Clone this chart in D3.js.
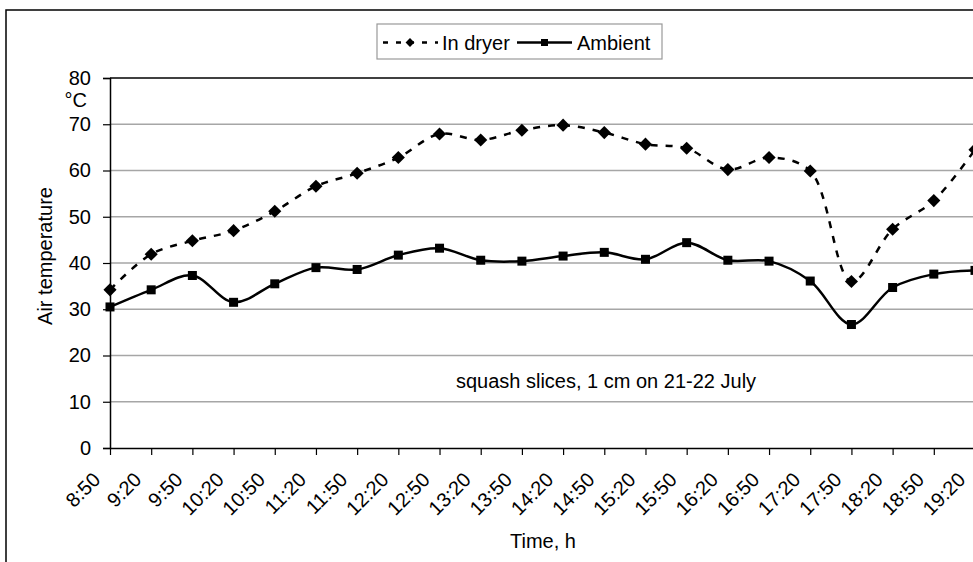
<!DOCTYPE html>
<html>
<head>
<meta charset="utf-8">
<script src="https://cdn.jsdelivr.net/npm/d3@7"></script>
<style>
  body { margin: 0; background: #fff; }
  svg { font-family: "Liberation Sans", Arial, sans-serif; }
</style>
</head>
<body>
<svg id="chart" width="973" height="562"></svg>
<script>
var times = ["8:50","9:20","9:50","10:20","10:50","11:20","11:50","12:20","12:50","13:20","13:50",
             "14:20","14:50","15:20","15:50","16:20","16:50","17:20","17:50","18:20","18:50","19:20"]

var inDryer = [34.2, 41.9, 44.8, 47.0, 51.2, 56.6, 59.4, 62.8, 67.9, 66.6, 68.7,
               69.8, 68.2, 65.7, 64.8, 60.2, 62.8, 59.9, 36.0, 47.3, 53.5, 64.5]

var ambient = [30.5, 34.2, 37.3, 31.5, 35.5, 39.0, 38.6, 41.7, 43.2, 40.6, 40.4,
               41.5, 42.3, 40.8, 44.4, 40.6, 40.4, 36.1, 26.7, 34.7, 37.6, 38.4]

var yTicks = [0, 10, 20, 30, 40, 50, 60, 70, 80]

var svg = d3.select("#chart")

var plotLeft = 110, plotRight = 975, plotTop = 78, plotBottom = 448

var x = d3.scalePoint().domain(times).range([plotLeft, plotRight])
var y = d3.scaleLinear().domain([0, 80]).range([plotBottom, plotTop])

// outer frame (runs off the page on the right and bottom)
svg.append("rect")
    .attr("x", 6).attr("y", 10)
    .attr("width", 1000).attr("height", 600)
    .attr("fill", "none").attr("stroke", "#000").attr("stroke-width", 1.5)

// gridlines
svg.append("g").selectAll("line")
    .data(yTicks.filter(function(d) { return d > 0 && d < 80 }))
    .enter().append("line")
    .attr("x1", plotLeft).attr("x2", 973)
    .attr("y1", function(d) { return y(d) }).attr("y2", function(d) { return y(d) })
    .attr("stroke", "#a6a6a6").attr("stroke-width", 1.5)

// plot top border
svg.append("line")
    .attr("x1", plotLeft).attr("x2", 973).attr("y1", y(80)).attr("y2", y(80))
    .attr("stroke", "#000").attr("stroke-width", 1.5)

// y axis
var yAxis = svg.append("g")
    .attr("transform", "translate(" + plotLeft + ",0)")
    .call(d3.axisLeft(y).tickValues(yTicks).tickSize(7).tickPadding(12))
yAxis.select(".domain").attr("stroke", "#000").attr("stroke-width", 1.5)
yAxis.selectAll(".tick line").attr("stroke", "#000").attr("stroke-width", 1.2)
yAxis.selectAll("text").attr("font-size", 20).attr("fill", "#000").attr("font-family", "Liberation Sans, Arial")

// x axis
var xAxis = svg.append("g")
    .attr("transform", "translate(0," + plotBottom + ")")
    .call(d3.axisBottom(x).tickSize(7).tickSizeOuter(0))
xAxis.select(".domain").attr("stroke", "#000").attr("stroke-width", 1.5)
xAxis.selectAll(".tick line").attr("stroke", "#000").attr("stroke-width", 1.2)
xAxis.selectAll("text")
    .attr("font-size", 20).attr("fill", "#000").attr("font-family", "Liberation Sans, Arial")
    .attr("text-anchor", "end")
    .attr("y", 0).attr("dy", 0)
    .attr("transform", "translate(-9,33) rotate(-45)")

// unit and axis titles
svg.append("text").attr("x", 87).attr("y", 107).attr("text-anchor", "end")
    .attr("font-size", 20).text("°C")

svg.append("text")
    .attr("transform", "translate(52,256) rotate(-90)")
    .attr("text-anchor", "middle").attr("font-size", 20)
    .text("Air temperature")

svg.append("text").attr("x", 543).attr("y", 548).attr("text-anchor", "middle")
    .attr("font-size", 20).text("Time, h")

svg.append("text").attr("x", 606).attr("y", 388).attr("text-anchor", "middle")
    .attr("font-size", 20).text("squash slices, 1 cm on 21-22 July")

// lines
var line = d3.line()
    .x(function(d, i) { return x(times[i]) })
    .y(function(d) { return y(d) })
    .curve(d3.curveCatmullRom.alpha(0.5))

svg.append("path").datum(inDryer)
    .attr("d", line)
    .attr("fill", "none").attr("stroke", "#000").attr("stroke-width", 2.5)
    .attr("stroke-dasharray", "7,8")

svg.append("path").datum(ambient)
    .attr("d", line)
    .attr("fill", "none").attr("stroke", "#000").attr("stroke-width", 2.5)

var diamond = d3.symbol().type(d3.symbolDiamond2).size(110)

svg.append("g").selectAll("path")
    .data(inDryer)
    .enter().append("path")
    .attr("d", diamond)
    .attr("transform", function(d, i) { return "translate(" + x(times[i]) + "," + y(d) + ")" })
    .attr("fill", "#000")

svg.append("g").selectAll("rect")
    .data(ambient)
    .enter().append("rect")
    .attr("x", function(d, i) { return x(times[i]) - 4.5 })
    .attr("y", function(d) { return y(d) - 4.5 })
    .attr("width", 9).attr("height", 9)
    .attr("fill", "#000")

// legend
var legend = svg.append("g")
legend.append("rect")
    .attr("x", 377).attr("y", 24).attr("width", 285).attr("height", 35)
    .attr("fill", "#fff").attr("stroke", "#999").attr("stroke-width", 1.2)

legend.append("line")
    .attr("x1", 383).attr("x2", 438).attr("y1", 42.5).attr("y2", 42.5)
    .attr("stroke", "#000").attr("stroke-width", 2.5).attr("stroke-dasharray", "5,8")
legend.append("path").attr("d", d3.symbol().type(d3.symbolDiamond2).size(50))
    .attr("transform", "translate(410,42.5)")
legend.append("text").attr("x", 442).attr("y", 49.5).attr("font-size", 20).text("In dryer")

legend.append("line")
    .attr("x1", 517).attr("x2", 572).attr("y1", 42.5).attr("y2", 42.5)
    .attr("stroke", "#000").attr("stroke-width", 2.5)
legend.append("rect").attr("x", 541).attr("y", 39).attr("width", 7).attr("height", 7)
legend.append("text").attr("x", 577).attr("y", 49.5).attr("font-size", 20).text("Ambient")
</script>
</body>
</html>
